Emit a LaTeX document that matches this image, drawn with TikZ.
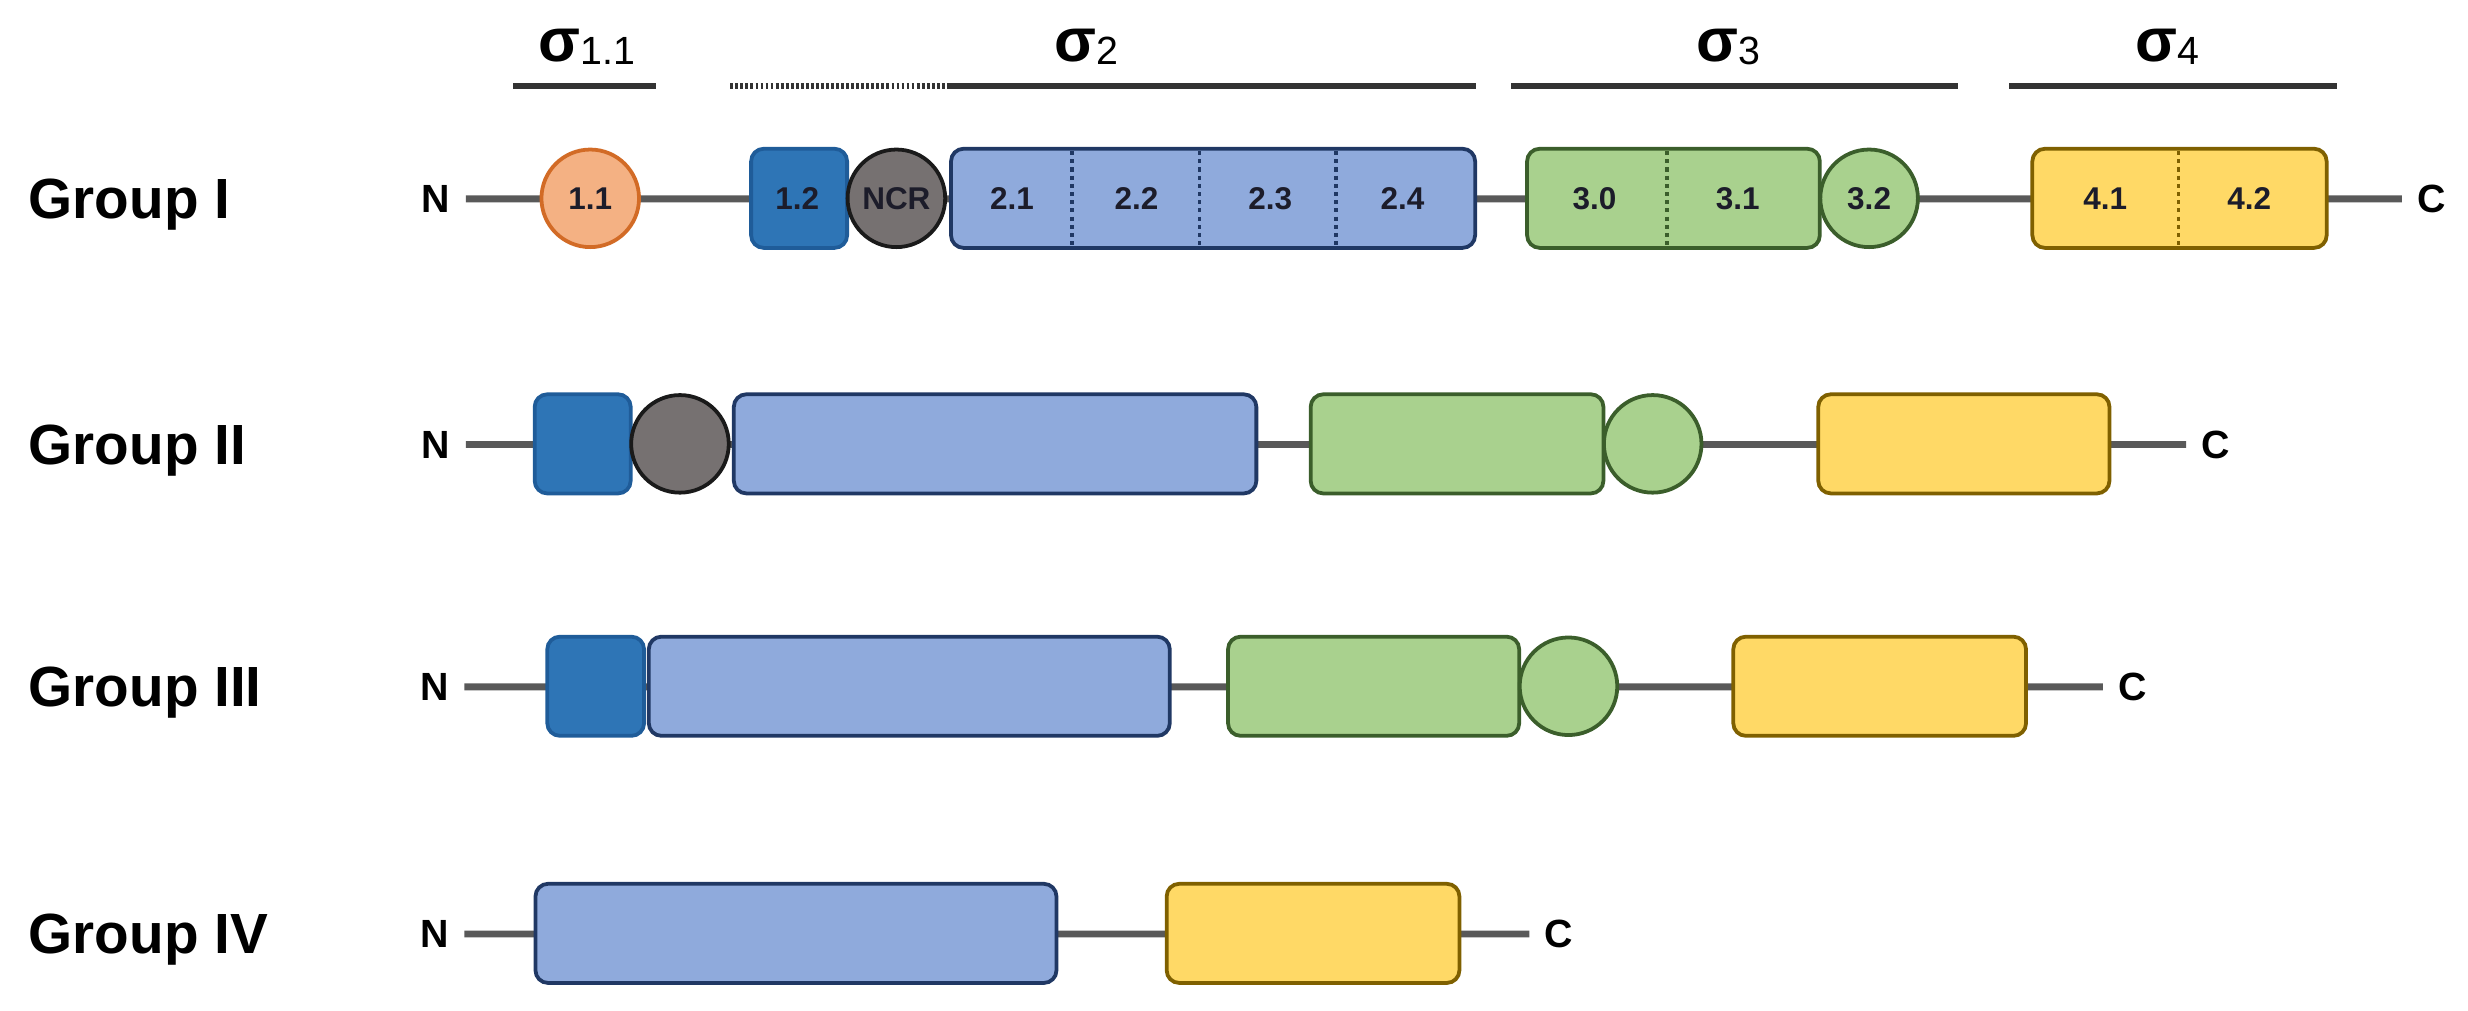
\documentclass[tikz,border=0pt]{standalone}
\usepackage{fontspec}
\setmainfont{Liberation Sans}
\definecolor{linegray}{HTML}{595959}
\definecolor{bargray}{HTML}{333333}
\definecolor{orfill}{HTML}{F4B183}
\definecolor{ordraw}{HTML}{D26B26}
\definecolor{dbfill}{HTML}{2E75B6}
\definecolor{dbdraw}{HTML}{1F5C99}
\definecolor{gyfill}{HTML}{767171}
\definecolor{gydraw}{HTML}{1A1A1A}
\definecolor{lbfill}{HTML}{8FAADC}
\definecolor{lbdraw}{HTML}{203864}
\definecolor{grfill}{HTML}{A9D18E}
\definecolor{grdraw}{HTML}{3B5E2B}
\definecolor{yefill}{HTML}{FFD966}
\definecolor{yedraw}{HTML}{7F6000}
\definecolor{txtdark}{HTML}{1C1C2A}
\begin{document}
\begin{tikzpicture}[x=1pt,y=-1pt,
  every node/.style={inner sep=0pt},
  backbone/.style={line width=4.4pt, draw=linegray},
  sbar/.style={line width=3.6pt, draw=bargray},
  seg/.style={draw, rounded corners=8pt, line width=2.4pt, minimum height=63pt, anchor=west},
  dom/.style={draw, circle, line width=2.4pt, minimum size=62pt},
  orbox/.style={dom, fill=orfill, draw=ordraw},
  dbbox/.style={seg, fill=dbfill, draw=dbdraw},
  gydom/.style={dom, fill=gyfill, draw=gydraw},
  lbbox/.style={seg, fill=lbfill, draw=lbdraw},
  grbox/.style={seg, fill=grfill, draw=grdraw},
  grdom/.style={dom, fill=grfill, draw=grdraw},
  yebox/.style={seg, fill=yefill, draw=yedraw},
  divider/.style={line width=2.4pt, dash pattern=on 2.6pt off 2.6pt},
  grouplbl/.style={anchor=base west, font=\bfseries\fontsize{36}{40}\selectfont},
  endlbl/.style={anchor=base, font=\bfseries\fontsize{25}{28}\selectfont, outer sep=10pt},
  inlbl/.style={font=\bfseries\fontsize{20}{22}\selectfont, text=txtdark},
  siglbl/.style={anchor=base}
]
\useasboundingbox (0,0) rectangle (1568,642);

% ---------- sigma headers ----------
\newcommand{\sig}[1]{{\bfseries\fontsize{39}{40}\selectfont σ}\raisebox{-2pt}{\fontsize{25}{26}\selectfont #1}}
\node[siglbl] (s11) at (373,39) {\sig{1.1}};
\node[siglbl] (s2) at (690,39) {\sig{2}};
\node[siglbl] (s3) at (1098,39) {\sig{3}};
\node[siglbl] (s4) at (1377,39) {\sig{4}};
\draw[sbar] (326,54.7) -- (417,54.7);
\draw[sbar, dash pattern=on 1.8pt off 1.4pt] (464,54.7) -- (603,54.7);
\draw[sbar] (603,54.7) -- (938,54.7);
\draw[sbar] (960,54.7) -- (1244,54.7);
\draw[sbar] (1276.5,54.7) -- (1484.5,54.7);

% ---------- Group I ----------
\node[grouplbl] (g1) at (18,139) {Group I};
\node[endlbl] (n1) at (277,135) {N};
\node[endlbl] (c1) at (1545,135) {C};
\draw[backbone] (n1.east) -- (c1.west);
\node[orbox] (d11a) at (375,126) {};
\node[inlbl] (t11a) at (375,126) {1.1};
\node[dbbox, minimum width=61pt] (d12a) at (476,126) {};
\node[inlbl] (t12a) at (506.5,126) {1.2};
\node[gydom] (ncra) at (569.5,126) {};
\node[inlbl] (tncra) at (569.5,126) {NCR};
\node[lbbox, minimum width=333pt] (d2a) at (603,126) {};
\draw[divider, lbdraw] (681,96) -- (681,156);
\draw[divider, lbdraw] (762,96) -- (762,156);
\draw[divider, lbdraw] (849,96) -- (849,156);
\node[inlbl] (t21) at (643,126) {2.1};
\node[inlbl] (t22) at (722,126) {2.2};
\node[inlbl] (t23) at (807,126) {2.3};
\node[inlbl] (t24) at (891,126) {2.4};
\node[grbox, minimum width=186pt] (d3a) at (969,126) {};
\draw[divider, grdraw] (1059,96) -- (1059,156);
\node[inlbl] (t30) at (1013,126) {3.0};
\node[inlbl] (t31) at (1104,126) {3.1};
\node[grdom] (d32a) at (1187.5,126) {};
\node[inlbl] (t32) at (1187.5,126) {3.2};
\node[yebox, minimum width=187pt] (d4a) at (1290,126) {};
\draw[divider, yedraw] (1384,96) -- (1384,156);
\node[inlbl] (t41) at (1337.5,126) {4.1};
\node[inlbl] (t42) at (1429,126) {4.2};

% ---------- Group II ----------
\node[grouplbl] (g2) at (18,295) {Group II};
\node[endlbl] (n2) at (277,291) {N};
\node[endlbl] (c2) at (1408,291) {C};
\draw[backbone] (n2.east) -- (c2.west);
\node[dbbox, minimum width=61pt] (d12b) at (338.5,282) {};
\node[gydom] (ncrb) at (432,282) {};
\node[lbbox, minimum width=332pt] (d2b) at (465,282) {};
\node[grbox, minimum width=186pt] (d3b) at (831.5,282) {};
\node[grdom] (d32b) at (1050,282) {};
\node[yebox, minimum width=185pt] (d4b) at (1154,282) {};

% ---------- Group III ----------
\node[grouplbl] (g3) at (18,449) {Group III};
\node[endlbl] (n3) at (276,445) {N};
\node[endlbl] (c3) at (1355,445) {C};
\draw[backbone] (n3.east) -- (c3.west);
\node[dbbox, minimum width=61.5pt] (d12c) at (346.5,436) {};
\node[lbbox, minimum width=331pt] (d2c) at (411,436) {};
\node[grbox, minimum width=185pt] (d3c) at (779,436) {};
\node[grdom] (d32c) at (996.5,436) {};
\node[yebox, minimum width=186pt] (d4c) at (1100,436) {};

% ---------- Group IV ----------
\node[grouplbl] (g4) at (18,606) {Group IV};
\node[endlbl] (n4) at (276,602) {N};
\node[endlbl] (c4) at (990.6,602) {C};
\draw[backbone] (n4.east) -- (c4.west);
\node[lbbox, minimum width=331pt] (d2d) at (339,593) {};
\node[yebox, minimum width=186pt] (d4d) at (740,593) {};
\end{tikzpicture}
\end{document}
